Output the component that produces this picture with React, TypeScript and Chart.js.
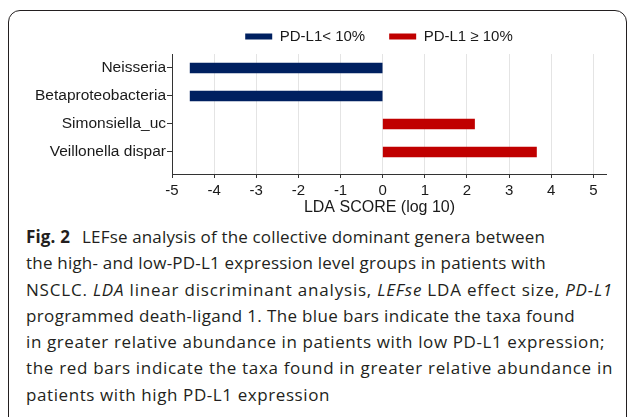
import React, { useEffect, useLayoutEffect, useRef } from "react";
import { Chart, registerables } from "chart.js";

Chart.register(...registerables);

// ---- data ----
const categories = ["Neisseria", "Betaproteobacteria", "Simonsiella_uc", "Veillonella dispar"];
const seriesNames = ["PD-L1< 10%", "PD-L1 \u2265 10%"];
const lowScores: (number | null)[] = [-4.57, -4.57, null, null]; // PD-L1 < 10%
const highScores: (number | null)[] = [null, null, 2.18, 3.65]; // PD-L1 >= 10%
const xTicks = [-5, -4, -3, -2, -1, 0, 1, 2, 3, 4, 5];
const xTitle = "LDA SCORE (log 10)";

// caption layout: left edge and right end of each printed line
const captionLeft = 26;
const captionEnds = [545, 546, 613, 575, 605, 613, 330];

const toPoints = (vals: (number | null)[]) =>
  vals
    .map((v, i) => (v === null ? null : { x: v, y: i }))
    .filter((p) => p !== null) as { x: number; y: number }[];

// nudge the legend and the axis title left, as in the original figure
const shiftBlocks = {
  id: "shiftBlocks",
  afterLayout(chart: any) {
    if (chart.legend) {
      chart.legend.left -= 10;
      chart.legend.right -= 10;
    }
    if (chart.titleBlock) {
      chart.titleBlock.left -= 9.5;
      chart.titleBlock.right -= 9.5;
    }
  },
};

const FONT = '"Liberation Sans", Arial, sans-serif';

export default function App() {
  const ref = useRef<HTMLCanvasElement>(null);
  const lineRefs = useRef<(HTMLSpanElement | null)[]>([]);

  useLayoutEffect(() => {
    lineRefs.current.forEach((el, i) => {
      if (!el) return;
      el.style.letterSpacing = "0px";
      const w = el.getBoundingClientRect().width;
      const n = (el.textContent || "").length;
      if (n > 0) el.style.letterSpacing = (captionEnds[i] - captionLeft - w) / n + "px";
    });
  }, []);

  useEffect(() => {
    const ink = "#1a1a1a";
    const axis = "#333333";
    const chart = new Chart(ref.current as HTMLCanvasElement, {
      type: "bar",
      data: {
        datasets: [
          { label: seriesNames[0], data: toPoints(lowScores) as any, backgroundColor: "#002060", borderWidth: 0 },
          { label: seriesNames[1], data: toPoints(highScores) as any, backgroundColor: "#c00000", borderWidth: 0 },
        ],
      },
      options: {
        indexAxis: "y",
        animation: false,
        responsive: true,
        maintainAspectRatio: false,
        layout: { padding: { top: 5, right: 23, bottom: 0.8, left: 0 } },
        font: { family: FONT, size: 15 },
        datasets: { bar: { grouped: false, barThickness: 10, maxBarThickness: 10 } } as any,
        plugins: {
          legend: {
            position: "top",
            fullSize: false,
            labels: {
              boxWidth: 27,
              boxHeight: 6,
              padding: 24,
              color: ink,
              font: { family: FONT, size: 15 },
            },
          },
          title: {
            display: true,
            text: xTitle,
            position: "bottom",
            fullSize: false,
            color: ink,
            font: { family: FONT, size: 16, weight: "normal" },
            padding: { top: 0, bottom: 0 },
          },
          tooltip: { enabled: false },
        },
        scales: {
          x: {
            type: "linear",
            min: -5,
            max: 5.3,
            offset: false,
            afterBuildTicks: (s: any) => {
              s.ticks = xTicks.map((v) => ({ value: v }));
            },
            afterFit: (s: any) => {
              s.height = 24;
            },
            grid: { color: "#e4e4e4", tickColor: axis, tickLength: 4, offset: false },
            border: { color: axis, width: 1 },
            ticks: {
              padding: 4,
              color: ink,
              autoSkip: false,
              maxRotation: 0,
              font: { family: FONT, size: 15 },
            },
          },
          y: {
            type: "linear",
            reverse: true,
            offset: false,
            min: -0.5,
            max: 3.786,
            afterBuildTicks: (s: any) => {
              s.ticks = categories.map((_, i) => ({ value: i }));
            },
            afterFit: (s: any) => {
              s.width = 172;
            },
            grid: { drawOnChartArea: false, tickColor: axis, tickLength: 5, offset: false },
            border: { color: axis, width: 1 },
            ticks: {
              padding: 1,
              color: ink,
              autoSkip: false,
              font: { family: FONT, size: 15.5 },
              callback: (v: any) => categories[v as number] ?? "",
            },
          },
        },
      } as any,
      plugins: [shiftBlocks],
    });
    return () => chart.destroy();
  }, []);

  const capColor = "#231f20";
  const line: React.CSSProperties = { height: 26.3, whiteSpace: "nowrap" };
  const setRef = (i: number) => (el: HTMLSpanElement | null) => {
    lineRefs.current[i] = el;
  };

  return (
    <div
      style={{
        position: "fixed",
        left: 0,
        top: 0,
        width: 629,
        height: 417,
        overflow: "hidden",
        background: "#ffffff",
      }}
    >
      <div
        style={{
          position: "absolute",
          left: 8,
          top: 10,
          width: 619,
          height: 440,
          border: "1px solid #231f20",
          borderRadius: 12,
          boxSizing: "border-box",
        }}
      />
      <div style={{ position: "absolute", left: 0, top: 0, width: 629, height: 218 }}>
        <canvas ref={ref} />
      </div>
      <div
        style={{
          position: "absolute",
          left: captionLeft,
          top: 224,
          fontFamily: "'Open Sans', 'Noto Sans', sans-serif",
          fontSize: 17,
          lineHeight: "26.3px",
          color: capColor,
        }}
      >
        <div style={line}>
          <span ref={setRef(0)}>
            <b>Fig. 2</b>
            <span style={{ marginLeft: 12 }}>LEFse analysis of the collective dominant genera between</span>
          </span>
        </div>
        <div style={line}>
          <span ref={setRef(1)}>the high- and low-PD-L1 expression level groups in patients with</span>
        </div>
        <div style={line}>
          <span ref={setRef(2)}>
            NSCLC. <i>LDA</i> linear discriminant analysis, <i>LEFse</i> LDA effect size, <i>PD-L1</i>
          </span>
        </div>
        <div style={line}>
          <span ref={setRef(3)}>programmed death-ligand 1. The blue bars indicate the taxa found</span>
        </div>
        <div style={line}>
          <span ref={setRef(4)}>in greater relative abundance in patients with low PD-L1 expression;</span>
        </div>
        <div style={line}>
          <span ref={setRef(5)}>the red bars indicate the taxa found in greater relative abundance in</span>
        </div>
        <div style={line}>
          <span ref={setRef(6)}>patients with high PD-L1 expression</span>
        </div>
      </div>
    </div>
  );
}
